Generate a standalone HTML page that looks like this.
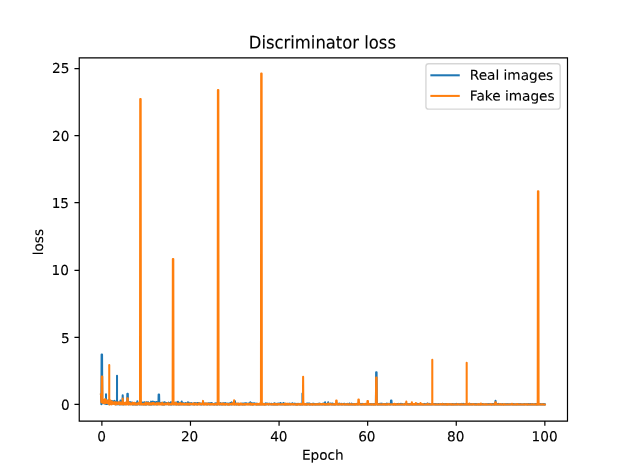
<!DOCTYPE html>
<html lang="en"><head><meta charset="utf-8"><title>Discriminator loss</title>
<style>html,body{margin:0;padding:0;background:#fff;overflow:hidden}svg{display:block}text{font-family:"DejaVu Sans","Liberation Sans",sans-serif;fill:#000;stroke:#000;stroke-width:0.120}</style></head><body>
<svg width="630" height="473" viewBox="0 -0.254 640 480.508" preserveAspectRatio="none">
<rect x="-1" y="-2" width="642" height="484" fill="#ffffff"/>
<defs><clipPath id="ax"><rect x="80.00" y="57.60" width="496.00" height="369.60"/></clipPath></defs>
<g clip-path="url(#ax)" fill="none" stroke-width="2.083" stroke-linejoin="round" stroke-linecap="square">
<polyline stroke="#1f77b4" points="102.55,400.60 102.77,404.28 103.00,410.39 103.22,359.96 103.45,359.96 103.67,359.96 103.90,408.74 104.12,408.78 104.35,409.30 104.57,407.83 104.80,406.91 105.03,408.57 105.25,408.03 105.48,407.33 105.70,408.80 105.93,409.72 106.15,408.66 106.38,407.81 106.60,408.27 106.83,408.51 107.05,407.84 107.28,409.69 107.51,407.07 107.67,410.17 107.69,400.33 107.70,410.17 107.73,410.17 107.96,408.89 108.18,409.46 108.41,409.70 108.63,408.15 108.86,409.51 109.08,410.03 109.31,408.58 109.53,406.65 109.76,408.61 109.99,409.65 110.21,408.48 110.44,406.30 110.66,408.94 110.89,408.71 111.11,409.00 111.34,410.30 111.56,408.21 111.79,409.14 112.01,409.52 112.24,407.73 112.47,409.70 112.69,409.25 112.92,407.15 113.14,410.17 113.37,407.06 113.59,409.96 113.82,409.03 114.04,409.30 114.27,408.98 114.49,408.70 114.72,407.42 114.95,408.89 115.17,409.34 115.40,407.74 115.62,409.76 115.85,407.94 116.07,408.90 116.30,408.75 116.52,407.01 116.75,407.95 116.97,409.65 117.20,410.34 117.43,410.45 117.65,408.88 117.88,410.06 118.10,407.90 118.33,409.15 118.55,409.29 118.78,410.42 118.85,408.11 118.87,381.37 118.89,408.11 119.00,408.11 119.23,409.84 119.45,409.65 119.68,409.62 119.91,410.32 120.13,408.77 120.36,408.58 120.58,408.76 120.81,410.28 121.03,409.82 121.26,409.41 121.48,410.47 121.71,409.10 121.93,410.66 122.16,409.38 122.39,406.58 122.61,409.23 122.84,409.84 123.06,409.91 123.29,409.27 123.51,410.17 123.74,409.82 123.96,410.54 124.19,409.78 124.41,409.47 124.64,401.42 124.87,407.78 125.09,409.50 125.32,408.91 125.54,410.54 125.77,409.88 125.99,409.02 126.22,410.45 126.44,409.95 126.67,409.69 126.89,409.85 127.12,410.25 127.35,409.97 127.57,410.44 127.80,410.07 128.02,409.69 128.25,409.75 128.47,410.02 128.70,409.57 128.92,408.77 129.15,409.62 129.37,399.65 129.60,399.65 129.83,399.65 130.05,409.69 130.28,408.45 130.50,410.37 130.73,410.29 130.95,410.58 131.18,410.32 131.40,409.84 131.63,409.76 131.85,410.44 132.08,408.24 132.31,409.64 132.53,410.03 132.76,409.96 132.98,410.07 133.21,410.10 133.43,409.59 133.66,410.03 133.88,408.60 134.11,409.54 134.33,410.57 134.56,410.53 134.79,409.15 135.01,409.79 135.24,409.78 135.46,410.15 135.69,410.50 135.91,409.66 136.14,410.08 136.36,409.62 136.59,409.37 136.81,409.19 137.04,410.60 137.27,410.68 137.49,410.16 137.72,409.80 137.94,410.64 138.17,410.52 138.39,409.47 138.62,409.73 138.84,410.60 139.07,410.37 139.29,409.12 139.52,407.48 139.75,410.60 139.97,408.91 140.20,409.01 140.42,409.41 140.65,410.24 140.87,409.66 141.10,409.92 141.32,410.18 141.55,410.05 141.77,410.54 142.00,408.77 142.23,409.23 142.45,410.52 142.68,409.47 142.90,409.95 143.13,408.66 143.35,409.88 143.58,410.09 143.80,410.54 144.03,408.33 144.25,409.57 144.48,409.51 144.71,410.38 144.93,409.94 145.16,410.04 145.38,410.01 145.61,408.91 145.83,410.55 146.06,410.40 146.28,410.18 146.51,409.80 146.73,408.42 146.96,409.33 147.19,410.58 147.41,410.09 147.64,410.32 147.86,410.52 148.09,410.67 148.31,410.15 148.54,409.83 148.76,409.15 148.99,408.31 149.21,410.57 149.44,410.26 149.67,410.26 149.89,410.04 150.12,408.56 150.34,410.18 150.57,408.48 150.79,410.30 151.02,410.41 151.24,409.49 151.47,410.66 151.69,410.26 151.92,410.43 152.15,410.17 152.37,410.51 152.60,409.98 152.82,408.90 153.05,410.51 153.27,408.81 153.50,407.76 153.72,410.67 153.95,410.08 154.17,410.37 154.40,409.51 154.63,410.00 154.85,410.40 155.08,410.22 155.30,407.66 155.53,410.42 155.75,410.37 155.98,410.22 156.20,410.55 156.43,409.31 156.65,410.48 156.88,408.07 157.11,409.56 157.33,410.01 157.56,409.52 157.78,408.70 158.01,410.06 158.23,408.51 158.46,409.56 158.68,410.52 158.91,408.88 159.13,408.22 159.36,410.09 159.59,410.41 159.81,408.67 160.04,410.53 160.26,410.03 160.49,409.03 160.71,407.88 160.94,410.04 161.16,400.46 161.39,400.46 161.61,400.46 161.84,409.78 162.07,410.33 162.29,409.02 162.52,409.24 162.74,409.91 162.97,409.39 163.19,409.51 163.42,409.61 163.64,409.80 163.87,409.05 164.09,410.17 164.32,409.99 164.55,410.61 164.77,409.78 165.00,408.81 165.22,410.62 165.45,410.06 165.67,410.41 165.90,410.65 166.12,410.07 166.35,409.85 166.57,408.86 166.80,408.38 167.03,410.49 167.25,410.68 167.48,410.41 167.70,409.44 167.93,408.81 168.15,409.50 168.38,410.09 168.60,409.65 168.83,409.60 169.05,409.08 169.28,410.34 169.51,409.56 169.73,409.22 169.96,409.81 170.18,409.69 170.41,409.69 170.63,410.10 170.86,409.33 171.08,409.87 171.31,408.79 171.53,410.65 171.76,410.33 171.99,410.06 172.21,409.13 172.44,410.46 172.66,410.26 172.89,409.87 173.11,410.65 173.34,410.54 173.56,408.52 173.79,410.42 174.01,408.99 174.24,410.67 174.47,409.29 174.69,408.78 174.92,410.38 175.14,409.88 175.37,409.83 175.59,409.45 175.82,408.04 176.04,410.38 176.27,409.85 176.49,410.61 176.72,409.96 176.95,409.82 177.17,409.30 177.40,410.43 177.62,408.87 177.85,410.16 178.07,408.81 178.30,410.48 178.52,410.26 178.75,410.31 178.97,409.87 179.20,410.61 179.43,408.66 179.65,409.91 179.88,409.24 180.10,409.51 180.33,409.31 180.55,410.40 180.78,407.98 181.00,410.44 181.23,410.63 181.45,409.79 181.68,410.38 181.91,410.57 182.13,409.84 182.36,410.58 182.58,410.48 182.81,408.94 183.03,409.65 183.26,409.18 183.48,410.43 183.71,410.69 183.93,409.35 184.16,409.28 184.39,410.48 184.61,407.69 184.84,410.49 185.06,410.25 185.29,410.19 185.51,409.44 185.74,410.41 185.96,409.71 186.19,410.67 186.41,409.38 186.64,409.47 186.87,410.24 187.09,410.31 187.32,410.49 187.54,409.65 187.77,409.70 187.99,409.54 188.22,409.83 188.44,410.47 188.67,409.06 188.89,410.61 189.12,409.58 189.35,409.71 189.57,410.38 189.80,410.37 190.02,410.16 190.25,410.27 190.47,410.66 190.70,410.46 190.92,408.41 191.15,410.33 191.37,410.62 191.60,409.76 191.83,408.96 192.05,410.13 192.28,410.63 192.50,409.88 192.73,410.62 192.95,410.04 193.18,409.63 193.40,409.95 193.63,410.49 193.85,410.01 194.08,409.14 194.31,410.48 194.53,410.24 194.76,410.12 194.98,410.40 195.21,410.15 195.43,410.01 195.66,409.81 195.88,410.09 196.11,409.71 196.33,410.32 196.56,410.38 196.79,410.38 197.01,410.66 197.24,409.69 197.46,410.67 197.69,409.17 197.91,410.49 198.14,410.11 198.36,409.46 198.59,410.05 198.81,409.91 199.04,409.33 199.27,410.30 199.49,409.88 199.72,409.74 199.94,409.76 200.17,410.66 200.39,410.66 200.62,410.55 200.84,409.18 201.07,410.41 201.29,409.85 201.52,409.68 201.75,409.23 201.97,409.54 202.20,409.20 202.42,410.16 202.65,409.61 202.87,409.96 203.10,410.41 203.32,410.28 203.55,410.61 203.77,409.74 204.00,410.49 204.23,410.47 204.45,409.94 204.68,410.49 204.90,410.37 205.13,409.69 205.35,410.37 205.58,410.20 205.80,410.27 206.03,409.55 206.25,410.26 206.48,409.25 206.71,409.99 206.93,410.69 207.16,409.84 207.38,410.22 207.61,409.52 207.83,410.00 208.06,410.22 208.28,409.95 208.51,410.06 208.73,410.09 208.96,409.99 209.19,410.01 209.41,410.44 209.64,410.24 209.86,410.32 210.09,410.56 210.31,409.66 210.54,410.64 210.76,409.99 210.99,410.03 211.21,410.27 211.44,410.13 211.67,410.43 211.89,409.33 212.12,409.98 212.34,409.78 212.57,409.58 212.79,410.59 213.02,409.80 213.24,409.69 213.47,409.38 213.69,410.43 213.92,409.90 214.15,409.68 214.37,410.48 214.60,410.21 214.82,410.04 215.05,409.25 215.27,409.36 215.50,410.09 215.72,410.48 215.95,410.40 216.17,410.37 216.40,410.04 216.63,410.09 216.85,410.12 217.08,410.48 217.30,410.19 217.53,410.53 217.75,409.97 217.98,410.12 218.20,410.01 218.43,410.58 218.65,409.87 218.88,410.38 219.11,409.96 219.33,409.33 219.56,410.20 219.78,410.50 220.01,410.69 220.23,410.06 220.46,409.97 220.68,409.45 220.91,409.80 221.13,410.60 221.36,409.14 221.59,410.40 221.81,409.98 222.04,410.27 222.26,410.21 222.49,410.03 222.71,410.40 222.94,410.13 223.16,410.61 223.39,409.96 223.61,409.57 223.84,409.23 224.07,410.18 224.29,409.61 224.52,410.65 224.74,410.52 224.97,410.36 225.19,410.36 225.42,410.51 225.64,409.76 225.87,410.58 226.09,409.97 226.32,409.62 226.55,409.99 226.77,409.98 227.00,409.40 227.22,410.24 227.45,410.57 227.67,410.40 227.90,410.09 228.12,409.62 228.35,410.07 228.57,409.44 228.80,409.19 229.03,410.60 229.25,410.19 229.48,410.60 229.70,410.48 229.93,410.17 230.15,409.95 230.38,410.32 230.60,409.73 230.83,409.99 231.05,410.14 231.28,410.60 231.51,410.03 231.73,409.80 231.96,410.24 232.18,410.25 232.41,409.95 232.63,410.53 232.86,410.43 233.08,409.96 233.31,410.65 233.53,410.47 233.76,409.99 233.99,409.18 234.21,410.33 234.44,409.92 234.66,410.41 234.89,410.64 235.11,409.70 235.34,408.53 235.56,410.53 235.79,410.37 236.01,410.04 236.24,409.81 236.47,410.20 236.69,409.89 236.92,409.64 237.14,409.76 237.37,410.37 237.59,410.17 237.82,409.62 238.04,410.53 238.27,410.62 238.49,410.32 238.72,407.42 238.95,410.42 239.17,410.06 239.40,410.48 239.62,410.60 239.85,410.09 240.07,410.28 240.30,410.57 240.52,410.69 240.75,410.34 240.97,410.15 241.20,409.90 241.43,410.45 241.65,410.13 241.88,409.86 242.10,409.69 242.33,410.55 242.55,410.56 242.78,410.43 243.00,410.68 243.23,410.35 243.45,410.11 243.68,410.43 243.91,410.60 244.13,410.07 244.36,409.91 244.58,410.45 244.81,410.47 245.03,410.25 245.26,410.51 245.48,410.27 245.71,409.64 245.93,410.47 246.16,410.59 246.39,410.11 246.61,410.32 246.84,410.34 247.06,409.67 247.29,409.82 247.51,410.13 247.74,410.59 247.96,410.31 248.19,409.68 248.41,410.68 248.64,410.24 248.87,409.74 249.09,410.57 249.32,410.11 249.54,410.10 249.77,410.44 249.99,409.30 250.22,409.52 250.44,410.21 250.67,410.10 250.89,410.02 251.12,410.16 251.35,409.94 251.57,410.22 251.80,410.34 252.02,410.02 252.25,410.25 252.47,410.43 252.70,409.82 252.92,410.05 253.15,409.63 253.37,410.44 253.60,410.45 253.83,410.36 254.05,410.21 254.28,408.51 254.50,410.62 254.73,410.22 254.95,410.07 255.18,409.77 255.40,409.51 255.63,409.70 255.85,410.29 256.08,409.38 256.31,410.07 256.53,410.59 256.76,410.58 256.98,410.67 257.21,410.22 257.43,410.67 257.66,410.66 257.88,409.46 258.11,410.41 258.33,410.11 258.56,410.45 258.79,409.62 259.01,409.93 259.24,409.73 259.46,410.35 259.69,410.31 259.91,410.23 260.14,410.30 260.36,410.36 260.59,410.20 260.81,409.84 261.04,410.63 261.27,410.13 261.49,410.61 261.72,410.19 261.94,410.59 262.17,410.61 262.39,410.59 262.62,410.67 262.84,410.12 263.07,410.42 263.29,410.37 263.52,410.62 263.75,410.65 263.97,410.42 264.20,410.59 264.42,410.46 264.65,409.87 264.87,410.48 265.10,409.96 265.32,409.94 265.55,409.81 265.77,410.53 266.00,410.58 266.23,409.70 266.45,410.09 266.68,410.16 266.90,410.41 267.13,410.39 267.35,410.13 267.58,410.15 267.80,410.06 268.03,410.63 268.25,410.37 268.48,410.47 268.71,410.47 268.93,410.51 269.16,410.62 269.38,410.32 269.61,409.61 269.83,410.59 270.06,409.64 270.28,410.12 270.51,409.83 270.73,409.96 270.96,410.46 271.19,410.48 271.41,410.10 271.64,410.12 271.86,409.79 272.09,410.25 272.31,410.09 272.54,410.22 272.76,410.16 272.99,410.56 273.21,410.57 273.44,409.87 273.67,410.25 273.89,409.91 274.12,410.24 274.34,410.12 274.57,410.29 274.79,410.27 275.02,410.34 275.24,410.01 275.47,410.62 275.69,410.45 275.92,409.85 276.15,410.26 276.37,410.36 276.60,410.33 276.82,410.56 277.05,410.41 277.27,410.52 277.50,410.62 277.72,410.64 277.95,410.24 278.17,410.57 278.40,410.48 278.63,409.49 278.85,410.56 279.08,410.69 279.30,410.57 279.53,410.63 279.75,410.55 279.98,409.93 280.20,410.68 280.43,410.28 280.65,410.34 280.88,410.51 281.11,410.25 281.33,410.10 281.56,410.61 281.78,410.57 282.01,410.52 282.23,410.45 282.46,409.75 282.68,410.11 282.91,410.22 283.13,410.07 283.36,410.36 283.59,409.77 283.81,410.21 284.04,410.47 284.26,410.39 284.49,410.61 284.71,410.08 284.94,409.16 285.16,409.96 285.39,410.46 285.61,410.44 285.84,409.90 286.07,410.38 286.29,410.57 286.52,410.58 286.74,410.62 286.97,410.18 287.19,410.42 287.42,410.06 287.64,410.32 287.87,409.22 288.09,409.73 288.32,410.53 288.55,410.64 288.77,410.51 289.00,410.18 289.22,409.82 289.45,410.11 289.67,410.63 289.90,410.43 290.12,410.57 290.35,410.28 290.57,410.57 290.80,410.43 291.03,410.31 291.25,410.61 291.48,410.09 291.70,410.04 291.93,410.11 292.15,410.00 292.38,410.65 292.60,410.52 292.83,410.51 293.05,410.23 293.28,410.66 293.51,410.61 293.73,410.38 293.96,409.82 294.18,409.92 294.41,410.30 294.63,410.37 294.86,410.08 295.08,410.57 295.31,410.54 295.53,410.27 295.76,410.33 295.99,410.07 296.21,410.21 296.44,410.41 296.66,410.23 296.89,410.38 297.11,409.51 297.34,410.23 297.56,409.73 297.79,410.56 298.01,410.63 298.24,410.34 298.47,410.22 298.69,410.42 298.92,409.90 299.14,410.30 299.37,410.35 299.59,409.90 299.82,410.58 300.04,410.29 300.27,410.34 300.49,410.31 300.72,410.04 300.95,410.63 301.17,410.25 301.40,410.25 301.62,410.33 301.85,410.58 302.07,410.32 302.30,410.43 302.52,410.06 302.75,410.50 302.97,410.36 303.20,410.35 303.43,410.07 303.65,410.33 303.88,410.65 304.10,410.58 304.33,410.67 304.55,410.19 304.78,410.45 305.00,410.05 305.23,410.04 305.45,410.59 305.68,410.37 305.91,410.68 306.13,410.34 306.36,410.12 306.58,410.08 306.81,410.57 307.03,410.53 307.24,410.52 307.26,399.51 307.28,410.52 307.26,410.52 307.48,410.60 307.71,410.44 307.93,410.38 308.16,409.65 308.39,410.49 308.61,410.34 308.84,410.41 309.06,409.96 309.29,410.31 309.51,410.52 309.74,410.26 309.96,410.66 310.19,410.14 310.41,410.59 310.64,410.49 310.87,410.59 311.09,410.67 311.32,410.03 311.54,410.67 311.77,409.70 311.99,410.47 312.22,410.26 312.44,409.80 312.67,410.53 312.89,410.38 313.12,410.00 313.35,409.84 313.57,410.07 313.80,410.30 314.02,409.69 314.25,410.67 314.47,410.40 314.70,410.55 314.92,410.68 315.15,410.03 315.37,410.30 315.60,410.26 315.83,410.51 316.05,410.62 316.28,410.60 316.50,410.30 316.73,410.25 316.95,410.15 317.18,410.36 317.40,410.65 317.63,410.25 317.85,410.42 318.08,409.83 318.31,410.05 318.53,410.57 318.76,410.28 318.98,409.99 319.21,410.17 319.43,410.43 319.66,410.63 319.88,410.60 320.11,410.39 320.33,410.49 320.56,410.10 320.79,410.09 321.01,410.68 321.24,410.43 321.46,410.68 321.69,410.63 321.91,410.68 322.14,410.15 322.36,410.47 322.59,410.38 322.81,410.57 323.04,410.19 323.27,409.92 323.49,410.53 323.72,410.68 323.94,410.25 324.17,410.32 324.39,409.79 324.62,410.09 324.84,410.51 325.07,410.17 325.29,410.58 325.52,409.99 325.75,410.47 325.97,410.38 326.20,410.46 326.42,410.53 326.65,410.30 326.87,410.42 327.10,410.68 327.32,410.55 327.55,410.06 327.77,410.49 328.00,410.68 328.23,410.23 328.45,409.65 328.68,410.58 328.90,409.92 329.13,409.95 329.35,409.90 329.58,410.61 329.80,410.09 330.03,410.60 330.25,408.37 330.48,410.52 330.71,410.47 330.93,410.66 331.16,410.64 331.38,410.08 331.61,410.61 331.83,410.13 332.06,410.59 332.28,410.64 332.51,410.17 332.73,410.26 332.96,410.49 333.19,410.68 333.41,408.37 333.64,410.30 333.86,410.49 334.09,410.69 334.31,410.62 334.54,410.56 334.76,410.39 334.99,410.49 335.21,410.19 335.44,410.06 335.67,410.45 335.89,410.17 336.12,409.71 336.34,409.85 336.57,410.55 336.79,410.53 337.02,409.89 337.24,410.39 337.47,410.30 337.69,409.98 337.92,409.73 338.15,410.66 338.37,410.43 338.60,410.54 338.82,410.38 339.05,410.60 339.27,410.49 339.50,410.56 339.72,410.68 339.95,410.48 340.17,410.61 340.40,410.39 340.63,410.49 340.85,410.63 341.08,410.40 341.30,410.34 341.53,410.20 341.75,410.33 341.98,409.54 342.20,410.34 342.43,410.09 342.65,410.31 342.88,410.59 343.11,410.19 343.33,409.86 343.56,410.19 343.78,410.67 344.01,410.48 344.23,410.12 344.46,410.12 344.68,410.48 344.91,409.83 345.13,410.48 345.36,410.48 345.59,410.33 345.81,410.23 346.04,410.51 346.26,410.52 346.49,409.97 346.71,410.53 346.94,410.63 347.16,410.19 347.39,410.24 347.61,410.34 347.84,410.55 348.07,410.57 348.29,410.33 348.52,410.05 348.74,410.23 348.97,410.10 349.19,410.24 349.42,410.52 349.64,410.30 349.87,409.89 350.09,410.55 350.32,410.49 350.55,410.64 350.77,410.39 351.00,410.62 351.22,410.60 351.45,410.45 351.67,410.48 351.90,410.41 352.12,410.60 352.35,410.18 352.57,410.24 352.80,410.23 353.03,410.64 353.25,410.08 353.48,410.42 353.70,410.57 353.93,410.41 354.15,410.45 354.38,410.38 354.60,410.59 354.83,410.68 355.05,409.77 355.28,410.38 355.51,410.50 355.73,410.27 355.96,410.63 356.18,410.59 356.41,410.58 356.63,410.44 356.86,410.51 357.08,410.57 357.31,409.80 357.53,410.42 357.76,410.34 357.99,410.44 358.21,410.62 358.44,410.23 358.66,410.38 358.89,410.69 359.11,410.54 359.34,410.61 359.56,410.36 359.79,410.58 360.01,410.29 360.24,410.56 360.47,410.62 360.69,410.57 360.92,410.16 361.14,410.59 361.37,410.67 361.59,410.33 361.82,410.65 362.04,410.52 362.27,410.25 362.49,410.03 362.72,410.33 362.95,410.27 363.17,410.61 363.40,410.03 363.62,410.35 363.85,410.66 364.07,410.55 364.30,410.32 364.52,410.27 364.75,410.42 364.97,410.41 365.20,409.74 365.43,410.34 365.65,410.01 365.88,410.69 366.10,410.54 366.33,410.34 366.55,410.64 366.78,410.55 367.00,410.56 367.23,410.50 367.45,410.21 367.68,410.46 367.91,409.98 368.13,410.32 368.36,410.18 368.58,410.64 368.81,410.57 369.03,410.35 369.26,410.35 369.48,410.61 369.71,410.64 369.93,410.49 370.16,410.62 370.39,410.57 370.61,410.52 370.84,410.28 371.06,410.01 371.29,410.18 371.51,410.64 371.74,410.68 371.96,410.15 372.19,410.47 372.41,410.54 372.64,410.53 372.87,410.52 373.09,410.65 373.32,410.41 373.54,410.46 373.77,410.51 373.99,410.62 374.22,410.44 374.44,410.01 374.67,410.48 374.89,410.67 375.12,410.44 375.35,410.62 375.57,410.69 375.80,410.56 376.02,410.16 376.25,410.62 376.47,410.48 376.70,410.43 376.92,410.45 377.15,410.63 377.37,410.53 377.60,410.56 377.83,410.21 378.05,410.60 378.28,410.68 378.50,410.66 378.73,410.46 378.95,410.56 379.18,410.68 379.40,410.53 379.63,410.36 379.85,410.66 380.08,410.58 380.31,410.41 380.53,410.20 380.76,410.43 380.98,410.47 381.21,410.60 381.43,410.12 381.66,410.66 381.88,410.16 382.11,377.96 382.33,377.96 382.56,377.96 382.79,410.46 383.01,410.18 383.24,410.55 383.46,410.23 383.69,410.66 383.91,410.15 384.14,410.43 384.36,410.49 384.59,410.23 384.81,410.54 385.04,410.32 385.27,410.37 385.49,410.45 385.72,410.57 385.94,409.92 386.17,410.58 386.39,410.67 386.62,410.04 386.84,410.27 387.07,410.48 387.29,410.24 387.52,410.57 387.75,410.19 387.97,409.73 388.20,410.57 388.42,410.30 388.65,410.53 388.87,410.63 389.10,410.57 389.32,410.40 389.55,410.45 389.77,410.17 390.00,410.42 390.23,410.58 390.45,410.11 390.68,410.11 390.90,410.10 391.13,410.35 391.35,410.69 391.58,410.31 391.80,410.48 392.03,410.24 392.25,409.94 392.48,410.56 392.71,409.89 392.93,410.60 393.16,410.44 393.38,409.93 393.61,410.12 393.83,410.64 394.06,410.16 394.28,410.53 394.51,410.41 394.73,410.22 394.96,410.00 395.19,410.12 395.41,410.27 395.64,410.61 395.86,410.50 396.09,410.61 396.31,410.06 396.54,410.59 396.76,410.65 396.99,410.56 397.21,406.60 397.44,406.60 397.67,406.60 397.89,409.82 398.12,410.33 398.34,410.42 398.57,410.27 398.79,410.33 399.02,410.59 399.24,410.58 399.47,410.53 399.69,410.60 399.92,410.52 400.15,410.36 400.37,410.64 400.60,410.55 400.82,410.52 401.05,410.58 401.27,410.49 401.50,410.63 401.72,410.44 401.95,410.61 402.17,410.67 402.40,410.58 402.63,410.29 402.85,410.41 403.08,410.59 403.30,410.34 403.53,410.30 403.75,410.26 403.98,410.58 404.20,410.48 404.43,410.58 404.65,410.67 404.88,410.33 405.11,410.05 405.33,410.65 405.56,410.10 405.78,410.53 406.01,410.34 406.23,410.61 406.46,410.32 406.68,410.55 406.91,410.31 407.13,409.90 407.36,410.67 407.59,410.63 407.81,410.52 408.04,410.37 408.26,410.53 408.49,410.42 408.71,410.16 408.94,410.66 409.16,410.41 409.39,410.64 409.61,410.57 409.84,410.58 410.07,410.63 410.29,410.52 410.52,410.67 410.74,410.37 410.97,410.64 411.19,410.50 411.42,410.51 411.64,410.49 411.87,409.78 412.09,410.28 412.32,410.59 412.55,410.16 412.77,410.53 413.00,410.64 413.22,410.43 413.45,410.67 413.67,410.25 413.90,410.43 414.12,410.58 414.35,410.23 414.57,410.39 414.80,410.50 415.03,410.40 415.25,410.65 415.48,410.61 415.70,410.43 415.93,410.60 416.15,410.57 416.38,410.63 416.60,410.30 416.83,410.53 417.05,410.65 417.28,410.59 417.51,410.13 417.73,410.66 417.96,410.58 418.18,410.53 418.41,410.69 418.63,410.63 418.86,410.50 419.08,410.61 419.31,410.48 419.53,410.69 419.76,410.53 419.99,410.49 420.21,410.49 420.44,410.52 420.66,410.51 420.89,410.58 421.11,410.64 421.34,410.60 421.56,410.66 421.79,410.20 422.01,410.69 422.24,410.59 422.47,410.56 422.69,410.61 422.92,410.68 423.14,410.19 423.37,410.28 423.59,409.87 423.82,410.63 424.04,410.24 424.27,410.21 424.49,410.38 424.72,410.51 424.95,410.35 425.17,410.61 425.40,410.15 425.62,410.30 425.85,410.59 426.07,410.59 426.30,410.22 426.52,410.56 426.75,410.46 426.97,410.25 427.20,410.65 427.43,410.43 427.65,410.47 427.88,410.69 428.10,410.49 428.33,410.58 428.55,410.49 428.78,410.68 429.00,410.61 429.23,410.64 429.45,410.69 429.68,410.59 429.91,410.63 430.13,410.36 430.36,410.51 430.58,410.32 430.81,410.08 431.03,410.50 431.26,410.69 431.48,410.32 431.71,410.65 431.93,410.36 432.16,410.32 432.39,410.61 432.61,410.57 432.84,410.46 433.06,410.61 433.29,410.58 433.51,410.55 433.74,410.30 433.96,410.49 434.19,409.72 434.41,410.59 434.64,410.35 434.87,410.18 435.09,410.44 435.32,410.60 435.54,410.49 435.77,410.33 435.99,410.00 436.22,410.56 436.44,410.60 436.67,410.52 436.89,410.65 437.12,410.64 437.35,410.55 437.57,410.55 437.80,410.39 438.02,410.15 438.25,410.44 438.47,410.38 438.70,410.66 438.92,410.57 439.15,410.55 439.37,410.49 439.60,410.35 439.83,410.50 440.05,410.56 440.28,410.25 440.50,410.38 440.73,410.29 440.95,410.37 441.18,410.50 441.40,410.36 441.63,410.20 441.85,410.62 442.08,410.11 442.31,410.41 442.53,410.35 442.76,410.69 442.98,410.46 443.21,410.37 443.43,410.56 443.66,410.39 443.88,410.57 444.11,410.61 444.33,410.57 444.56,410.42 444.79,410.50 445.01,410.12 445.24,410.21 445.46,410.62 445.69,410.56 445.91,410.60 446.14,410.64 446.36,410.49 446.59,410.43 446.81,410.68 447.04,410.59 447.27,410.37 447.49,410.45 447.72,410.29 447.94,410.43 448.17,410.50 448.39,410.51 448.62,410.59 448.84,410.33 449.07,410.40 449.29,410.08 449.52,410.62 449.75,410.34 449.97,410.28 450.20,410.54 450.42,410.38 450.65,410.63 450.87,410.53 451.10,410.69 451.32,410.40 451.55,410.50 451.77,410.55 452.00,410.58 452.23,410.42 452.45,410.27 452.68,410.37 452.90,410.57 453.13,410.24 453.35,410.53 453.58,410.25 453.80,410.54 454.03,410.65 454.25,410.45 454.48,410.46 454.71,410.54 454.93,410.65 455.16,410.66 455.38,410.63 455.61,410.55 455.83,410.61 456.06,410.37 456.28,410.27 456.51,410.40 456.73,410.49 456.96,410.66 457.19,410.59 457.41,410.45 457.64,410.62 457.86,410.63 458.09,410.62 458.31,410.52 458.54,410.37 458.76,410.48 458.99,410.51 459.21,410.64 459.44,410.50 459.67,410.63 459.89,410.33 460.12,410.67 460.34,410.54 460.57,410.52 460.79,410.48 461.02,410.62 461.24,410.35 461.47,410.34 461.69,410.55 461.92,410.69 462.15,410.48 462.37,410.58 462.60,410.51 462.82,410.58 463.05,410.53 463.27,410.23 463.50,410.10 463.72,410.50 463.95,410.32 464.17,410.48 464.40,410.43 464.63,410.44 464.85,410.68 465.08,410.52 465.30,410.59 465.53,410.42 465.75,410.31 465.98,410.39 466.20,410.46 466.43,410.54 466.65,410.57 466.88,410.55 467.11,410.46 467.33,410.37 467.56,410.61 467.78,410.46 468.01,410.22 468.23,410.56 468.46,410.50 468.68,410.44 468.91,410.38 469.13,410.50 469.36,409.98 469.59,410.52 469.81,410.59 470.04,410.46 470.26,410.68 470.49,410.63 470.71,410.08 470.94,410.56 471.16,410.52 471.39,410.47 471.61,410.60 471.84,410.49 472.07,410.58 472.29,410.59 472.52,410.53 472.74,410.68 472.97,410.14 473.19,410.50 473.42,410.43 473.64,410.62 473.87,410.36 474.09,410.50 474.32,410.67 474.55,410.60 474.77,410.62 475.00,410.48 475.22,410.47 475.45,410.44 475.67,410.69 475.90,410.51 476.12,410.68 476.35,410.25 476.57,410.57 476.80,410.36 477.03,410.46 477.25,410.22 477.48,410.39 477.70,410.40 477.93,410.23 478.15,410.39 478.38,410.66 478.60,410.56 478.83,410.66 479.05,410.29 479.28,410.67 479.51,410.63 479.73,410.65 479.96,410.43 480.18,410.65 480.41,410.45 480.63,410.21 480.86,410.44 481.08,410.41 481.31,410.34 481.53,410.61 481.76,410.43 481.99,410.62 482.21,410.36 482.44,410.29 482.66,410.51 482.89,410.62 483.11,410.67 483.34,410.40 483.56,410.23 483.79,410.19 484.01,410.55 484.24,410.65 484.47,410.43 484.69,410.35 484.92,410.61 485.14,410.65 485.37,410.69 485.59,410.69 485.82,410.38 486.04,410.28 486.27,410.56 486.49,410.55 486.72,410.60 486.95,410.55 487.17,410.60 487.40,410.40 487.62,410.57 487.85,410.57 488.07,410.56 488.30,410.58 488.52,410.62 488.75,410.60 488.97,410.61 489.20,410.69 489.43,410.10 489.65,410.51 489.88,410.44 490.10,410.33 490.33,410.61 490.55,410.39 490.78,410.47 491.00,410.63 491.23,410.55 491.45,410.58 491.68,410.58 491.91,410.59 492.13,410.62 492.36,410.57 492.58,410.65 492.81,410.41 493.03,410.63 493.26,410.60 493.48,410.47 493.71,410.51 493.93,410.41 494.16,410.44 494.39,410.55 494.61,410.63 494.84,410.60 495.06,410.58 495.29,410.64 495.51,410.39 495.74,410.26 495.96,410.17 496.19,410.65 496.41,410.60 496.64,410.69 496.87,410.54 497.09,410.54 497.32,410.35 497.54,410.53 497.77,410.44 497.99,410.63 498.22,410.48 498.44,410.51 498.67,410.49 498.89,410.36 499.12,410.64 499.35,410.59 499.57,410.64 499.80,410.56 500.02,410.30 500.25,410.67 500.47,410.19 500.70,410.62 500.92,410.57 501.15,410.67 501.37,410.36 501.60,410.52 501.83,410.59 502.05,410.41 502.28,410.53 502.50,410.63 502.73,410.44 502.95,410.59 503.18,410.68 503.40,406.87 503.63,410.43 503.85,410.51 504.08,410.33 504.31,410.54 504.53,410.53 504.76,410.66 504.98,410.40 505.21,410.58 505.43,410.69 505.66,410.32 505.88,410.50 506.11,410.10 506.33,410.58 506.56,410.47 506.79,410.58 507.01,410.64 507.24,410.66 507.46,410.44 507.69,410.66 507.91,410.57 508.14,410.54 508.36,410.32 508.59,410.54 508.81,410.49 509.04,410.45 509.27,410.57 509.49,410.69 509.72,410.59 509.94,410.45 510.17,410.30 510.39,410.35 510.62,410.47 510.84,410.66 511.07,410.38 511.29,410.60 511.52,410.65 511.75,410.65 511.97,410.61 512.20,410.65 512.42,410.61 512.65,410.47 512.87,410.60 513.10,410.44 513.32,410.41 513.55,410.55 513.77,410.56 514.00,410.53 514.23,410.51 514.45,410.54 514.68,410.59 514.90,410.67 515.13,410.28 515.35,410.61 515.58,410.58 515.80,410.41 516.03,410.49 516.25,410.48 516.48,410.55 516.71,410.61 516.93,410.39 517.16,410.51 517.38,410.63 517.61,410.62 517.83,410.47 518.06,410.50 518.28,410.62 518.51,410.54 518.73,410.53 518.96,410.47 519.19,410.50 519.41,410.49 519.64,410.36 519.86,410.64 520.09,410.40 520.31,410.58 520.54,410.48 520.76,410.49 520.99,410.35 521.21,410.65 521.44,410.67 521.67,410.47 521.89,410.65 522.12,410.32 522.34,410.69 522.57,410.61 522.79,410.69 523.02,410.64 523.24,410.57 523.47,410.59 523.69,410.63 523.92,410.50 524.15,410.68 524.37,410.45 524.60,410.57 524.82,410.68 525.05,410.55 525.27,410.68 525.50,410.41 525.72,410.65 525.95,410.50 526.17,410.68 526.40,410.63 526.63,410.55 526.85,410.30 527.08,410.63 527.30,410.68 527.53,410.68 527.75,410.54 527.98,410.50 528.20,410.35 528.43,410.40 528.65,410.64 528.88,410.46 529.11,410.64 529.33,410.46 529.56,410.37 529.78,410.66 530.01,410.67 530.23,410.66 530.46,410.64 530.68,410.53 530.91,410.60 531.13,410.62 531.36,410.52 531.59,410.56 531.81,410.67 532.04,410.45 532.26,410.54 532.49,410.62 532.71,410.37 532.94,410.58 533.16,410.45 533.39,410.47 533.61,410.54 533.84,410.40 534.07,410.46 534.29,410.40 534.52,410.44 534.74,410.50 534.97,410.61 535.19,410.65 535.42,410.33 535.64,410.69 535.87,410.61 536.09,410.67 536.32,410.59 536.55,410.39 536.77,410.64 537.00,410.67 537.22,410.27 537.45,410.55 537.67,410.55 537.90,410.39 538.12,410.42 538.35,410.58 538.57,410.65 538.80,410.60 539.03,410.16 539.25,410.45 539.48,410.36 539.70,410.57 539.93,410.64 540.15,410.48 540.38,410.63 540.60,410.52 540.83,410.17 541.05,410.61 541.28,410.46 541.51,410.62 541.73,410.68 541.96,410.40 542.18,410.55 542.41,410.67 542.63,410.62 542.86,410.56 543.08,410.38 543.31,410.67 543.53,410.54 543.76,410.29 543.99,410.48 544.21,410.57 544.44,410.41 544.66,410.46 544.89,410.29 545.11,410.69 545.34,410.68 545.56,410.54 545.79,410.55 546.01,410.68 546.24,410.33 546.47,410.45 546.69,410.58 546.92,410.60 547.14,410.60 547.37,410.47 547.59,410.41 547.82,410.38 548.04,410.54 548.27,410.60 548.49,410.49 548.72,410.23 548.95,410.41 549.17,410.34 549.40,410.69 549.62,410.50 549.85,410.49 550.07,410.51 550.30,410.56 550.52,410.61 550.75,410.42 550.97,410.63 551.20,410.50 551.43,410.49 551.65,410.55 551.88,410.43 552.10,410.68 552.33,410.38 552.55,410.66 552.78,410.54 553.00,410.50 553.23,410.65 553.45,410.55"/>
<polyline stroke="#ff7f0e" points="102.55,400.33 102.77,402.24 103.00,408.40 103.22,407.90 103.45,382.19 103.67,382.19 103.90,382.19 104.12,408.99 104.35,405.87 104.57,408.15 104.80,407.81 105.03,406.07 105.25,406.22 105.48,406.20 105.70,409.34 105.93,406.77 106.15,408.06 106.38,406.34 106.60,405.34 106.83,407.03 107.05,405.32 107.28,405.84 107.51,409.43 107.73,405.98 107.96,407.20 108.18,406.54 108.41,407.67 108.63,408.96 108.86,407.74 109.08,407.80 109.31,409.10 109.53,409.26 109.76,408.12 109.99,408.96 110.21,406.89 110.44,407.03 110.66,410.12 110.89,409.17 110.96,410.54 110.98,370.59 111.00,410.54 111.11,410.54 111.34,409.24 111.56,408.71 111.79,407.81 112.01,409.28 112.24,406.56 112.47,409.08 112.69,408.94 112.92,410.39 113.14,408.43 113.37,409.76 113.59,410.55 113.82,407.74 114.04,409.56 114.27,408.78 114.49,409.37 114.72,408.96 114.95,409.98 115.17,409.26 115.40,408.74 115.62,409.96 115.85,409.00 116.07,408.09 116.30,409.83 116.52,409.27 116.75,409.57 116.97,410.16 117.20,410.72 117.43,409.42 117.65,409.57 117.88,408.42 118.10,408.56 118.33,408.52 118.55,408.75 118.78,410.32 119.00,409.21 119.23,409.99 119.45,409.77 119.68,408.60 119.91,409.66 120.13,409.92 120.36,408.67 120.58,409.70 120.81,410.21 121.03,409.12 121.26,408.34 121.48,410.41 121.71,409.47 121.93,410.41 122.16,408.95 122.39,408.53 122.61,409.64 122.84,409.16 123.06,409.60 123.29,410.38 123.51,408.99 123.74,410.26 123.96,410.06 124.19,409.41 124.41,409.35 124.64,404.56 124.87,410.63 125.09,408.95 125.32,409.20 125.54,409.44 125.77,409.61 125.99,409.01 126.22,410.38 126.44,409.33 126.67,409.48 126.89,409.83 127.12,410.34 127.35,408.57 127.57,410.42 127.80,409.65 128.02,410.12 128.25,409.21 128.47,410.66 128.70,410.67 128.92,410.40 129.15,410.07 129.37,404.28 129.60,404.28 129.83,404.28 130.05,410.06 130.28,410.58 130.50,410.60 130.73,410.07 130.95,410.26 131.18,408.77 131.40,409.80 131.63,408.90 131.85,410.08 132.08,409.49 132.31,410.51 132.53,410.64 132.76,410.33 132.98,410.56 133.21,410.08 133.43,409.55 133.66,410.31 133.88,410.40 134.11,410.36 134.33,410.62 134.56,409.76 134.79,410.02 135.01,408.78 135.24,409.99 135.46,409.69 135.69,409.94 135.91,410.34 136.14,410.28 136.36,410.62 136.59,408.90 136.81,410.24 137.04,409.25 137.27,410.34 137.49,409.86 137.72,410.69 137.94,410.57 138.17,410.62 138.39,410.56 138.62,410.52 138.84,409.94 139.07,410.13 139.29,409.39 139.52,410.59 139.75,410.32 139.97,410.35 140.20,409.70 140.42,410.43 140.65,410.29 140.87,409.18 141.10,410.24 141.32,409.15 141.55,409.17 141.77,410.42 142.00,409.80 142.23,410.38 142.45,100.27 142.68,100.27 142.90,100.27 143.13,410.54 143.35,410.46 143.58,409.90 143.80,410.48 144.03,410.44 144.25,410.65 144.48,410.27 144.71,410.25 144.93,410.16 145.16,410.58 145.38,409.96 145.61,410.36 145.83,410.70 146.06,410.70 146.28,410.01 146.51,409.80 146.73,410.36 146.96,410.62 147.19,409.66 147.41,410.59 147.64,410.66 147.86,409.76 148.09,408.69 148.31,410.58 148.54,409.34 148.76,410.51 148.99,410.21 149.21,410.24 149.44,409.66 149.67,410.50 149.89,410.27 150.12,409.90 150.34,409.06 150.57,410.48 150.79,409.70 151.02,410.75 151.24,410.30 151.47,410.60 151.69,410.05 151.92,409.46 152.15,410.65 152.37,410.64 152.60,409.71 152.82,410.70 153.05,410.12 153.27,410.30 153.50,409.37 153.72,410.06 153.95,410.72 154.17,410.56 154.40,409.87 154.63,410.12 154.85,409.23 155.08,410.06 155.30,410.26 155.53,409.81 155.75,409.08 155.98,409.67 156.20,409.74 156.43,410.03 156.65,409.54 156.88,410.40 157.11,410.70 157.33,409.63 157.56,410.70 157.78,410.49 158.01,410.33 158.23,410.67 158.46,410.71 158.68,409.93 158.91,410.29 159.13,410.61 159.36,409.14 159.59,409.48 159.81,410.24 160.04,410.47 160.26,410.50 160.49,410.32 160.71,410.51 160.94,410.69 161.16,410.54 161.39,409.27 161.61,410.19 161.84,409.68 162.07,409.91 162.29,410.73 162.52,410.59 162.74,410.50 162.97,409.68 163.19,409.91 163.42,410.49 163.64,410.64 163.87,410.59 164.09,410.31 164.32,410.28 164.55,410.63 164.77,408.99 165.00,410.54 165.22,410.39 165.45,409.84 165.67,410.57 165.90,410.17 166.12,409.96 166.35,409.92 166.57,410.75 166.80,410.58 167.03,410.11 167.25,409.83 167.48,410.55 167.70,410.42 167.93,410.04 168.15,409.69 168.38,410.39 168.60,409.77 168.83,410.34 169.05,410.45 169.28,410.06 169.51,410.12 169.73,410.31 169.96,410.44 170.18,410.33 170.41,409.06 170.63,410.65 170.86,410.07 171.08,410.23 171.31,410.34 171.53,410.07 171.76,410.58 171.99,409.76 172.21,410.51 172.44,410.60 172.66,410.24 172.89,410.58 173.11,410.52 173.34,410.29 173.56,410.50 173.79,410.48 174.01,410.39 174.24,410.57 174.47,410.64 174.69,409.27 174.92,410.35 175.14,410.30 175.37,410.41 175.59,262.85 175.82,262.85 176.04,262.85 176.27,410.41 176.49,409.90 176.72,409.07 176.95,409.41 177.17,410.31 177.40,409.91 177.62,410.31 177.85,410.60 178.07,410.17 178.30,410.57 178.52,410.35 178.75,408.99 178.97,410.62 179.20,410.48 179.43,409.48 179.65,410.54 179.88,410.75 180.10,410.74 180.33,410.40 180.55,410.50 180.78,410.68 181.00,410.42 181.23,409.92 181.45,410.57 181.68,410.65 181.91,409.76 182.13,410.61 182.36,410.55 182.58,410.68 182.81,410.38 183.03,409.37 183.26,410.51 183.48,409.43 183.71,409.69 183.93,410.31 184.16,410.69 184.39,410.73 184.61,410.68 184.84,409.95 185.06,410.48 185.29,410.52 185.51,410.58 185.74,409.57 185.96,409.96 186.19,410.42 186.41,410.42 186.64,410.28 186.87,410.14 187.09,410.58 187.32,410.07 187.54,410.06 187.77,410.68 187.99,410.13 188.22,410.44 188.44,410.65 188.67,410.75 188.89,410.63 189.12,409.66 189.35,410.13 189.57,410.63 189.80,410.62 190.02,410.28 190.25,410.18 190.47,410.58 190.70,410.66 190.92,409.74 191.15,410.21 191.37,410.72 191.60,410.67 191.83,410.10 192.05,410.10 192.28,410.75 192.50,410.46 192.73,410.70 192.95,410.75 193.18,409.63 193.40,410.05 193.63,410.28 193.85,410.19 194.08,410.39 194.31,410.23 194.53,410.04 194.76,410.14 194.98,410.14 195.21,410.45 195.43,410.55 195.66,410.06 195.88,410.42 196.11,410.20 196.33,410.09 196.56,409.51 196.79,410.53 197.01,410.50 197.24,410.59 197.46,410.70 197.69,410.67 197.91,409.80 198.14,410.27 198.36,410.36 198.59,410.54 198.81,409.81 199.04,410.62 199.27,410.14 199.49,409.77 199.72,410.12 199.94,410.72 200.17,410.30 200.39,410.56 200.62,410.69 200.84,410.34 201.07,410.34 201.29,410.22 201.52,410.27 201.75,410.40 201.97,409.42 202.20,410.60 202.42,410.52 202.65,410.52 202.87,410.38 203.10,409.71 203.32,409.83 203.55,410.33 203.77,410.43 204.00,410.26 204.23,410.00 204.45,410.50 204.68,410.59 204.90,410.60 205.13,410.35 205.35,410.56 205.58,410.33 205.80,410.13 206.03,409.93 206.25,407.01 206.48,410.48 206.71,409.93 206.93,410.21 207.16,410.57 207.38,410.61 207.61,410.59 207.83,410.23 208.06,410.67 208.28,410.54 208.51,410.08 208.73,410.61 208.96,409.56 209.19,410.57 209.41,410.69 209.64,409.76 209.86,410.72 210.09,410.48 210.31,410.43 210.54,410.61 210.76,410.18 210.99,410.64 211.21,409.72 211.44,410.50 211.67,410.05 211.89,409.99 212.12,410.44 212.34,410.29 212.57,410.08 212.79,410.04 213.02,410.23 213.24,410.31 213.47,410.76 213.69,410.15 213.92,410.55 214.15,410.40 214.37,410.42 214.60,410.30 214.82,410.03 215.05,410.69 215.27,410.34 215.50,410.00 215.72,410.16 215.95,410.55 216.17,410.50 216.40,410.17 216.63,410.57 216.85,410.70 217.08,410.47 217.30,410.65 217.53,410.67 217.75,410.56 217.98,410.42 218.20,410.55 218.43,410.04 218.65,410.35 218.88,410.43 219.11,410.44 219.33,410.52 219.56,410.65 219.78,410.67 220.01,410.00 220.23,410.52 220.46,410.47 220.68,410.51 220.91,410.70 221.13,410.03 221.36,91.13 221.59,91.13 221.81,91.13 222.04,410.28 222.26,410.07 222.49,410.65 222.71,409.70 222.94,410.75 223.16,410.53 223.39,409.81 223.61,409.72 223.84,410.31 224.07,410.33 224.29,410.25 224.52,410.53 224.74,409.91 224.97,410.48 225.19,410.27 225.42,410.38 225.64,409.84 225.87,410.34 226.09,410.68 226.32,409.90 226.55,410.61 226.77,409.66 227.00,410.32 227.22,410.45 227.45,410.38 227.67,410.69 227.90,410.38 228.12,410.67 228.35,410.39 228.57,410.75 228.80,409.94 229.03,410.35 229.25,410.62 229.48,410.50 229.70,410.11 229.93,410.28 230.15,410.02 230.38,410.01 230.60,410.59 230.83,410.18 231.05,410.17 231.28,410.42 231.51,410.38 231.73,410.57 231.96,410.75 232.18,410.53 232.41,410.76 232.63,410.60 232.86,410.33 233.08,410.28 233.31,410.41 233.53,410.65 233.76,410.00 233.99,410.35 234.21,410.24 234.44,410.44 234.66,410.44 234.89,410.42 235.11,410.48 235.34,410.47 235.56,410.63 235.79,409.38 236.01,410.41 236.24,409.95 236.47,410.51 236.69,410.72 236.92,410.60 237.14,410.66 237.37,410.28 237.59,410.29 237.82,406.33 238.04,410.67 238.27,410.70 238.49,410.53 238.72,410.39 238.95,410.26 239.17,410.36 239.40,410.25 239.62,410.28 239.85,410.67 240.07,409.63 240.30,410.74 240.52,410.67 240.75,410.12 240.97,410.55 241.20,410.09 241.43,410.43 241.65,410.54 241.88,409.99 242.10,410.59 242.33,410.75 242.55,409.92 242.78,410.47 243.00,410.76 243.23,410.48 243.45,410.38 243.68,409.91 243.91,410.64 244.13,409.72 244.36,410.63 244.58,410.11 244.81,410.53 245.03,410.64 245.26,410.32 245.48,409.89 245.71,410.71 245.93,410.59 246.16,410.62 246.39,410.75 246.61,410.56 246.84,410.50 247.06,410.59 247.29,410.39 247.51,410.47 247.74,410.56 247.96,410.37 248.19,410.61 248.41,410.61 248.64,410.05 248.87,410.59 249.09,410.18 249.32,410.52 249.54,410.37 249.77,410.33 249.99,410.66 250.22,410.71 250.44,410.69 250.67,410.43 250.89,410.24 251.12,409.94 251.35,410.75 251.57,410.35 251.80,410.64 252.02,410.62 252.25,410.36 252.47,410.69 252.70,410.56 252.92,410.60 253.15,410.14 253.37,410.33 253.60,410.30 253.83,410.72 254.05,410.69 254.28,410.46 254.50,409.55 254.73,410.70 254.95,410.62 255.18,410.10 255.40,410.37 255.63,410.72 255.85,410.57 256.08,410.35 256.31,410.07 256.53,410.25 256.76,410.75 256.98,410.15 257.21,410.68 257.43,410.61 257.66,410.47 257.88,410.07 258.11,410.08 258.33,410.16 258.56,410.37 258.79,410.44 259.01,410.56 259.24,410.40 259.46,410.26 259.69,410.58 259.91,410.69 260.14,410.34 260.36,410.41 260.59,410.75 260.81,410.22 261.04,410.33 261.27,410.55 261.49,410.69 261.72,409.99 261.94,410.65 262.17,410.60 262.39,410.58 262.62,410.56 262.84,410.29 263.07,410.18 263.29,410.50 263.52,410.12 263.75,409.76 263.97,410.59 264.20,410.08 264.42,410.62 264.65,409.90 264.87,410.39 265.10,410.74 265.32,74.36 265.55,74.36 265.77,74.36 266.00,410.59 266.23,410.71 266.45,410.57 266.68,410.61 266.90,410.58 267.13,410.74 267.35,410.21 267.58,410.52 267.80,410.21 268.03,410.64 268.25,410.26 268.48,410.46 268.71,410.75 268.93,410.31 269.16,410.72 269.38,410.62 269.61,410.57 269.83,410.72 270.06,410.68 270.28,410.61 270.51,410.07 270.73,410.65 270.96,410.54 271.19,410.33 271.41,410.25 271.64,410.39 271.86,410.48 272.09,410.33 272.31,410.48 272.54,410.56 272.76,409.99 272.99,410.75 273.21,410.51 273.44,410.25 273.67,410.47 273.89,410.47 274.12,410.44 274.34,410.35 274.57,410.30 274.79,410.58 275.02,410.56 275.24,410.51 275.47,410.72 275.69,410.58 275.92,410.71 276.15,410.51 276.37,410.39 276.60,410.66 276.82,410.57 277.05,410.46 277.27,410.59 277.50,410.51 277.72,410.64 277.95,410.12 278.17,410.47 278.40,410.47 278.63,410.72 278.85,410.67 279.08,410.01 279.30,410.55 279.53,410.37 279.75,410.60 279.98,410.63 280.20,410.07 280.43,410.50 280.65,410.71 280.88,410.60 281.11,410.58 281.33,410.48 281.56,410.34 281.78,410.29 282.01,410.74 282.23,410.58 282.46,410.54 282.68,410.65 282.91,410.18 283.13,410.30 283.36,410.58 283.59,410.35 283.81,410.44 284.04,410.22 284.26,410.32 284.49,410.56 284.71,410.53 284.94,410.40 285.16,410.35 285.39,410.45 285.61,410.61 285.84,410.46 286.07,410.75 286.29,410.74 286.52,410.72 286.74,410.52 286.97,410.44 287.19,410.12 287.42,410.38 287.64,410.39 287.87,410.55 288.09,410.75 288.32,410.69 288.55,410.42 288.77,410.61 289.00,410.02 289.22,410.57 289.45,410.57 289.67,410.73 289.90,410.36 290.12,410.63 290.35,409.76 290.57,410.67 290.80,410.73 291.03,410.34 291.25,410.39 291.48,410.54 291.70,410.52 291.93,410.69 292.15,410.16 292.38,410.45 292.60,409.92 292.83,410.43 293.05,410.22 293.28,410.68 293.51,410.27 293.73,410.37 293.96,410.31 294.18,410.67 294.41,410.63 294.63,410.65 294.86,410.25 295.08,410.31 295.31,410.63 295.53,410.71 295.76,410.41 295.99,410.43 296.21,410.56 296.44,410.35 296.66,410.48 296.89,410.29 297.11,410.46 297.34,410.70 297.56,410.15 297.79,410.68 298.01,410.65 298.24,410.63 298.47,410.50 298.69,410.54 298.92,410.68 299.14,410.63 299.37,410.54 299.59,410.60 299.82,410.45 300.04,410.46 300.27,410.48 300.49,410.42 300.72,410.44 300.95,410.74 301.17,410.33 301.40,410.41 301.62,410.57 301.85,410.40 302.07,410.73 302.30,410.37 302.52,410.37 302.75,410.52 302.97,410.24 303.20,410.35 303.43,410.63 303.65,410.60 303.88,410.69 304.10,410.20 304.33,410.67 304.55,410.61 304.78,410.17 305.00,410.37 305.23,410.72 305.45,410.44 305.68,410.65 305.91,410.32 306.13,410.23 306.36,410.71 306.58,410.54 306.81,410.70 307.03,410.53 307.26,410.67 307.48,410.64 307.71,410.75 307.93,382.46 308.16,410.65 308.39,410.47 308.61,410.73 308.84,410.62 309.06,410.53 309.29,410.72 309.51,410.09 309.74,410.34 309.96,410.70 310.19,410.29 310.41,410.59 310.64,410.53 310.87,410.32 311.09,410.72 311.32,410.55 311.54,410.72 311.77,410.30 311.99,410.52 312.22,410.54 312.44,410.44 312.67,410.58 312.89,410.41 313.12,410.61 313.35,410.55 313.57,410.44 313.80,410.52 314.02,410.70 314.25,410.67 314.47,410.37 314.70,410.76 314.92,410.58 315.15,410.57 315.37,410.58 315.60,410.52 315.83,410.37 316.05,410.70 316.28,410.59 316.50,410.68 316.73,410.35 316.95,410.75 317.18,410.61 317.40,410.39 317.63,410.74 317.85,410.36 318.08,410.50 318.31,410.52 318.53,410.38 318.76,410.48 318.98,410.67 319.21,410.63 319.43,410.48 319.66,410.55 319.88,410.68 320.11,410.72 320.33,410.51 320.56,410.46 320.79,410.73 321.01,410.32 321.24,410.61 321.46,410.73 321.69,410.59 321.91,410.70 322.14,410.32 322.36,410.69 322.59,410.71 322.81,410.76 323.04,410.53 323.27,410.31 323.49,410.38 323.72,410.68 323.94,410.64 324.17,410.59 324.39,410.66 324.62,409.99 324.84,410.14 325.07,410.69 325.29,410.62 325.52,410.70 325.75,410.50 325.97,410.49 326.20,410.39 326.42,410.62 326.65,410.69 326.87,410.73 327.10,410.21 327.32,410.11 327.55,410.66 327.77,410.46 328.00,410.56 328.23,410.30 328.45,410.45 328.68,410.43 328.90,410.21 329.13,410.03 329.35,410.58 329.58,410.54 329.80,410.75 330.03,410.44 330.25,410.59 330.48,410.74 330.71,410.50 330.93,410.68 331.16,410.33 331.38,410.47 331.61,410.48 331.83,410.58 332.06,410.67 332.28,410.53 332.51,410.58 332.73,410.36 332.96,410.59 333.19,410.72 333.41,410.45 333.64,409.71 333.86,410.55 334.09,410.69 334.31,410.32 334.54,410.29 334.76,410.60 334.99,410.66 335.21,410.42 335.44,410.62 335.67,410.19 335.89,410.68 336.12,410.27 336.34,410.65 336.57,410.65 336.79,410.61 337.02,410.55 337.24,410.61 337.47,410.54 337.69,410.75 337.92,410.52 338.15,410.59 338.37,410.58 338.60,410.58 338.82,410.43 339.05,410.71 339.27,410.69 339.50,410.55 339.72,410.74 339.95,410.20 340.17,410.39 340.40,410.56 340.63,410.66 340.85,410.22 341.08,410.56 341.30,410.66 341.53,406.60 341.75,406.60 341.98,406.60 342.20,410.44 342.43,410.63 342.65,410.58 342.88,410.62 343.11,410.57 343.33,410.69 343.56,410.72 343.78,410.68 344.01,410.39 344.23,410.58 344.46,410.29 344.68,410.52 344.91,410.72 345.13,410.74 345.36,410.62 345.59,410.48 345.81,410.20 346.04,410.51 346.26,410.60 346.49,410.62 346.71,410.57 346.94,410.56 347.16,410.47 347.39,410.50 347.61,410.54 347.84,410.16 348.07,410.66 348.29,410.59 348.52,410.75 348.74,410.62 348.97,410.62 349.19,410.58 349.42,410.52 349.64,410.38 349.87,410.71 350.09,410.64 350.32,410.48 350.55,410.43 350.77,410.12 351.00,410.70 351.22,410.64 351.45,410.57 351.67,410.66 351.90,410.66 352.12,410.69 352.35,410.54 352.57,410.32 352.80,410.60 353.03,410.61 353.25,410.44 353.48,410.51 353.70,410.52 353.93,410.68 354.15,410.42 354.38,410.74 354.60,410.56 354.83,410.61 355.05,410.70 355.28,410.63 355.51,410.50 355.73,410.41 355.96,410.52 356.18,410.34 356.41,410.66 356.63,410.31 356.86,410.61 357.08,410.40 357.31,410.56 357.53,410.71 357.76,410.65 357.99,410.67 358.21,410.52 358.44,410.28 358.66,410.75 358.89,410.67 359.11,410.75 359.34,410.68 359.56,410.47 359.79,410.68 360.01,410.50 360.24,410.55 360.47,410.40 360.69,410.72 360.92,410.30 361.14,410.51 361.37,410.39 361.59,410.18 361.82,410.47 362.04,410.62 362.27,410.53 362.49,410.73 362.72,410.62 362.95,410.26 363.17,410.59 363.40,410.71 363.62,410.54 363.85,410.68 364.07,405.51 364.30,405.51 364.52,405.51 364.75,410.68 364.97,410.73 365.20,410.49 365.43,410.52 365.65,410.55 365.88,410.50 366.10,410.75 366.33,410.69 366.55,410.58 366.78,410.69 367.00,410.71 367.23,410.63 367.45,410.75 367.68,410.51 367.91,410.56 368.13,410.74 368.36,410.73 368.58,410.48 368.81,410.64 369.03,410.61 369.26,410.30 369.48,410.49 369.71,410.56 369.93,410.74 370.16,410.28 370.39,410.17 370.61,410.53 370.84,410.22 371.06,410.30 371.29,410.64 371.51,410.64 371.74,410.50 371.96,410.68 372.19,410.64 372.41,410.69 372.64,410.66 372.87,410.62 373.09,410.22 373.32,407.01 373.54,407.01 373.77,407.01 373.99,410.55 374.22,410.42 374.44,410.46 374.67,410.62 374.89,410.13 375.12,410.74 375.35,410.74 375.57,410.67 375.80,410.54 376.02,410.66 376.25,410.45 376.47,410.61 376.70,410.72 376.92,410.63 377.15,410.76 377.37,410.50 377.60,410.48 377.83,410.68 378.05,410.44 378.28,410.58 378.50,410.63 378.73,410.52 378.95,410.67 379.18,410.47 379.40,410.73 379.63,410.57 379.85,410.59 380.08,410.72 380.31,410.34 380.53,410.42 380.76,410.45 380.98,410.75 381.21,410.64 381.43,410.56 381.66,410.67 381.88,410.63 382.11,383.14 382.33,383.14 382.56,383.14 382.79,410.45 383.01,410.51 383.24,410.38 383.46,410.52 383.69,410.57 383.91,410.75 384.14,410.54 384.36,410.50 384.59,410.51 384.81,410.48 385.04,410.62 385.27,410.75 385.49,410.74 385.72,410.73 385.94,410.63 386.17,410.36 386.39,410.55 386.62,410.62 386.84,410.70 387.07,410.57 387.29,410.63 387.52,410.69 387.75,410.66 387.97,410.54 388.20,410.37 388.42,410.70 388.65,410.65 388.87,410.68 389.10,410.54 389.32,410.47 389.55,410.54 389.77,410.41 390.00,410.39 390.23,410.29 390.45,410.62 390.68,410.49 390.90,410.62 391.13,410.70 391.35,410.50 391.58,410.41 391.80,410.72 392.03,410.40 392.25,410.63 392.48,410.57 392.71,410.48 392.93,410.69 393.16,410.68 393.38,410.76 393.61,410.69 393.83,410.68 394.06,410.35 394.28,410.60 394.51,410.73 394.73,410.50 394.96,410.61 395.19,410.34 395.41,410.52 395.64,410.50 395.86,410.64 396.09,410.62 396.31,410.45 396.54,410.70 396.76,410.73 396.99,410.75 397.21,410.62 397.44,410.65 397.67,410.56 397.89,410.68 398.12,410.63 398.34,410.52 398.57,410.70 398.79,410.57 399.02,410.57 399.24,410.55 399.47,410.72 399.69,410.31 399.92,410.71 400.15,410.60 400.37,410.50 400.60,409.85 400.82,410.61 401.05,410.61 401.27,410.64 401.50,410.44 401.72,410.73 401.95,410.52 402.17,410.64 402.40,410.56 402.63,410.71 402.85,410.50 403.08,410.28 403.30,410.55 403.53,410.68 403.75,410.62 403.98,410.57 404.20,410.75 404.43,410.71 404.65,410.66 404.88,410.67 405.11,410.31 405.33,410.66 405.56,410.33 405.78,410.69 406.01,410.58 406.23,410.70 406.46,410.66 406.68,410.68 406.91,410.59 407.13,410.65 407.36,410.65 407.59,410.69 407.81,410.50 408.04,410.76 408.26,410.72 408.49,410.75 408.71,410.64 408.94,410.65 409.16,410.70 409.39,410.69 409.61,410.70 409.84,410.73 410.07,410.64 410.29,410.48 410.52,410.45 410.74,410.55 410.97,410.74 411.19,410.54 411.42,410.66 411.64,410.74 411.87,410.66 412.09,410.71 412.32,410.60 412.55,410.70 412.77,407.69 413.00,410.44 413.22,410.72 413.45,410.70 413.67,410.67 413.90,410.75 414.12,410.59 414.35,410.69 414.57,410.68 414.80,410.62 415.03,410.69 415.25,410.50 415.48,410.74 415.70,410.59 415.93,410.62 416.15,410.60 416.38,410.69 416.60,410.55 416.83,410.63 417.05,410.55 417.28,410.44 417.51,410.69 417.73,410.69 417.96,410.62 418.18,410.48 418.41,408.37 418.63,410.56 418.86,410.66 419.08,410.43 419.31,410.72 419.53,410.22 419.76,410.75 419.99,410.62 420.21,410.31 420.44,410.57 420.66,410.66 420.89,410.31 421.11,410.61 421.34,410.51 421.56,410.62 421.79,410.57 422.01,410.67 422.24,410.49 422.47,409.06 422.69,410.63 422.92,410.38 423.14,410.61 423.37,410.74 423.59,410.66 423.82,410.63 424.04,410.60 424.27,410.69 424.49,410.55 424.72,410.61 424.95,410.41 425.17,410.39 425.40,410.39 425.62,410.49 425.85,410.64 426.07,410.54 426.30,410.72 426.52,410.58 426.75,410.65 426.97,410.62 427.20,409.06 427.43,410.53 427.65,410.51 427.88,410.68 428.10,410.63 428.33,410.36 428.55,410.66 428.78,410.62 429.00,410.61 429.23,410.60 429.45,410.37 429.68,410.76 429.91,410.61 430.13,410.69 430.36,410.55 430.58,410.58 430.81,410.63 431.03,410.57 431.26,410.73 431.48,410.65 431.71,410.68 431.93,410.72 432.16,410.64 432.39,410.58 432.61,410.61 432.84,410.52 433.06,410.70 433.29,410.72 433.51,410.69 433.74,410.68 433.96,410.69 434.19,410.59 434.41,410.70 434.64,409.98 434.87,410.52 435.09,410.50 435.32,410.54 435.54,410.65 435.77,410.63 435.99,410.55 436.22,410.70 436.44,410.60 436.67,410.64 436.89,410.62 437.12,410.74 437.35,410.67 437.57,410.74 437.80,410.65 438.02,410.55 438.25,410.46 438.47,410.44 438.70,410.65 438.92,410.63 439.13,410.66 439.15,365.14 439.17,410.66 439.15,410.66 439.37,410.75 439.60,410.73 439.83,410.60 440.05,410.70 440.28,410.69 440.50,410.52 440.73,410.70 440.95,410.72 441.18,410.73 441.40,410.58 441.63,410.73 441.85,410.63 442.08,410.71 442.31,410.66 442.53,410.75 442.76,410.68 442.98,410.56 443.21,410.70 443.43,410.73 443.66,410.47 443.88,410.62 444.11,410.67 444.33,410.73 444.56,410.68 444.79,410.72 445.01,410.64 445.24,410.55 445.46,410.75 445.69,410.72 445.91,410.66 446.14,410.65 446.36,410.58 446.59,410.62 446.81,410.69 447.04,410.69 447.27,410.17 447.49,410.53 447.72,410.35 447.94,410.52 448.17,410.67 448.39,410.68 448.62,410.66 448.84,410.49 449.07,410.69 449.29,410.48 449.52,410.54 449.75,410.10 449.97,410.59 450.20,410.41 450.42,410.62 450.65,410.65 450.87,410.61 451.10,410.63 451.32,410.42 451.55,410.59 451.77,410.68 452.00,410.50 452.23,410.65 452.45,410.74 452.68,410.70 452.90,410.40 453.13,410.71 453.35,410.74 453.58,410.45 453.80,410.75 454.03,410.47 454.25,410.38 454.48,410.58 454.71,410.76 454.93,410.57 455.16,410.13 455.38,410.63 455.61,410.66 455.83,410.64 456.06,410.64 456.28,410.66 456.51,410.49 456.73,410.66 456.96,410.73 457.19,410.66 457.41,410.46 457.64,410.52 457.86,410.75 458.09,410.66 458.31,410.49 458.54,410.53 458.76,410.45 458.99,410.75 459.21,410.45 459.44,410.67 459.67,410.65 459.89,410.74 460.12,410.47 460.34,410.54 460.57,410.74 460.79,410.42 461.02,410.53 461.24,410.73 461.47,410.58 461.69,410.67 461.92,410.70 462.15,410.69 462.37,410.67 462.60,410.74 462.82,410.71 463.05,410.74 463.27,410.56 463.50,410.74 463.72,410.74 463.95,410.62 464.17,410.68 464.40,410.59 464.63,410.20 464.85,410.64 465.08,410.58 465.30,410.49 465.53,410.70 465.75,410.59 465.98,410.74 466.20,410.56 466.43,410.73 466.65,410.74 466.88,410.68 467.11,410.70 467.33,410.70 467.56,410.56 467.78,410.64 468.01,410.41 468.23,410.75 468.46,410.66 468.68,410.50 468.91,410.74 469.13,410.68 469.36,410.45 469.59,410.39 469.81,410.43 470.04,410.60 470.26,410.69 470.49,410.68 470.71,410.74 470.94,410.75 471.16,410.67 471.39,410.50 471.61,410.66 471.84,410.64 472.07,410.50 472.29,410.61 472.52,410.60 472.74,410.72 472.97,410.56 473.19,410.74 473.42,410.60 473.64,410.73 473.87,410.73 474.08,410.66 474.09,368.28 474.11,410.66 474.09,410.66 474.32,410.65 474.55,410.63 474.77,410.70 475.00,410.59 475.22,410.64 475.45,410.45 475.67,410.60 475.90,410.69 476.12,410.61 476.35,410.72 476.57,410.76 476.80,409.74 477.03,410.72 477.25,410.46 477.48,410.72 477.70,410.47 477.93,410.74 478.15,410.71 478.38,410.67 478.60,410.72 478.83,410.54 479.05,410.71 479.28,410.73 479.51,410.71 479.73,410.57 479.96,410.36 480.18,410.65 480.41,410.61 480.63,410.65 480.86,410.70 481.08,410.45 481.31,410.65 481.53,410.52 481.76,410.37 481.99,410.57 482.21,410.67 482.44,410.61 482.66,410.75 482.89,410.75 483.11,410.65 483.34,410.66 483.56,410.60 483.79,410.75 484.01,410.46 484.24,410.58 484.47,410.74 484.69,410.67 484.92,410.75 485.14,410.55 485.37,410.68 485.59,410.62 485.82,410.54 486.04,410.60 486.27,410.37 486.49,410.75 486.72,410.58 486.95,410.50 487.17,410.73 487.40,410.72 487.62,410.67 487.85,410.60 488.07,410.75 488.30,410.56 488.52,409.74 488.75,410.68 488.97,410.72 489.20,410.41 489.43,410.45 489.65,410.75 489.88,410.72 490.10,410.69 490.33,410.74 490.55,410.73 490.78,410.66 491.00,410.49 491.23,410.41 491.45,410.68 491.68,410.50 491.91,410.53 492.13,410.69 492.36,410.60 492.58,410.66 492.81,410.75 493.03,410.68 493.26,410.58 493.48,410.54 493.71,410.75 493.93,410.57 494.16,410.74 494.39,410.46 494.61,410.67 494.84,410.60 495.06,410.64 495.29,410.73 495.51,410.67 495.74,410.75 495.96,410.70 496.19,410.69 496.41,410.58 496.64,410.72 496.87,410.66 497.09,410.64 497.32,410.65 497.54,410.63 497.77,410.73 497.99,410.36 498.22,410.50 498.44,410.56 498.67,410.76 498.89,410.39 499.12,410.51 499.35,410.75 499.57,410.62 499.80,410.66 500.02,410.51 500.25,410.61 500.47,410.67 500.70,410.76 500.92,410.73 501.15,410.72 501.37,410.71 501.60,410.67 501.83,410.39 502.05,410.38 502.28,410.50 502.50,410.74 502.73,410.61 502.95,410.54 503.18,408.37 503.40,408.37 503.63,408.37 503.85,410.55 504.08,410.70 504.31,410.62 504.53,410.55 504.76,410.67 504.98,410.46 505.21,410.73 505.43,410.72 505.66,410.61 505.88,410.57 506.11,410.62 506.33,410.69 506.56,410.75 506.79,410.71 507.01,410.44 507.24,410.61 507.46,410.64 507.69,410.69 507.91,410.20 508.14,410.58 508.36,410.73 508.59,410.72 508.81,410.65 509.04,410.76 509.27,410.53 509.49,410.60 509.72,410.45 509.94,410.67 510.17,410.61 510.39,410.68 510.62,410.65 510.84,410.75 511.07,410.42 511.29,410.76 511.52,410.44 511.75,410.74 511.97,410.67 512.20,410.45 512.42,410.74 512.65,410.70 512.87,410.37 513.10,410.48 513.32,410.64 513.55,410.69 513.77,410.71 514.00,410.73 514.23,410.62 514.45,410.73 514.68,410.59 514.90,410.59 515.13,410.74 515.35,410.60 515.58,410.64 515.80,410.47 516.03,410.66 516.25,410.74 516.48,410.73 516.71,410.60 516.93,410.59 517.16,410.70 517.38,410.65 517.61,410.53 517.83,410.73 518.06,410.70 518.28,410.62 518.51,410.65 518.73,410.54 518.96,410.61 519.19,410.62 519.41,410.69 519.64,410.75 519.86,410.75 520.09,409.87 520.31,410.72 520.54,410.63 520.76,410.53 520.99,410.58 521.21,410.73 521.44,410.59 521.67,410.72 521.89,410.67 522.12,410.73 522.34,410.66 522.57,410.65 522.79,410.54 523.02,410.54 523.24,410.64 523.47,410.72 523.69,410.61 523.92,410.69 524.15,410.56 524.37,410.76 524.60,410.55 524.82,410.67 525.05,410.74 525.27,410.74 525.50,410.18 525.72,410.58 525.95,410.53 526.17,410.68 526.40,410.74 526.63,410.49 526.85,410.67 527.08,410.72 527.30,410.72 527.53,410.72 527.75,410.75 527.98,410.60 528.20,410.51 528.43,410.61 528.65,410.54 528.88,410.74 529.11,410.63 529.33,410.74 529.56,410.71 529.78,410.60 530.01,410.52 530.23,410.63 530.46,410.70 530.68,410.60 530.91,410.66 531.13,410.57 531.36,410.74 531.59,410.68 531.81,410.76 532.04,410.68 532.26,410.57 532.49,410.71 532.71,410.48 532.94,410.75 533.16,410.67 533.39,410.65 533.61,410.68 533.84,410.52 534.07,410.71 534.29,410.59 534.52,410.65 534.74,410.62 534.97,410.51 535.19,410.60 535.42,410.62 535.64,410.76 535.87,410.49 536.09,410.47 536.32,410.58 536.55,410.53 536.77,410.64 537.00,410.59 537.22,410.65 537.45,410.66 537.67,410.62 537.90,410.68 538.12,410.68 538.35,410.72 538.57,410.69 538.80,410.71 539.03,410.69 539.25,410.57 539.48,410.61 539.70,410.75 539.93,410.74 540.15,410.67 540.38,410.22 540.60,410.59 540.83,410.67 541.05,410.75 541.28,410.74 541.51,410.64 541.73,410.73 541.96,410.51 542.18,410.67 542.41,410.69 542.63,410.68 542.86,410.42 543.08,410.63 543.31,410.68 543.53,410.60 543.76,410.75 543.99,410.74 544.21,410.60 544.44,410.62 544.66,410.56 544.89,410.53 545.11,410.38 545.34,410.75 545.56,410.50 545.79,410.70 546.01,410.58 546.24,410.68 546.47,193.97 546.69,193.97 546.92,193.97 547.14,410.74 547.37,410.74 547.59,410.75 547.82,410.63 548.04,410.65 548.27,410.40 548.49,410.57 548.72,410.71 548.95,410.75 549.17,410.70 549.40,410.58 549.62,410.49 549.85,410.56 550.07,410.62 550.30,410.63 550.52,410.61 550.75,410.74 550.97,410.54 551.20,410.72 551.43,410.53 551.65,410.71 551.88,410.74 552.10,410.61 552.33,410.74 552.55,410.71 552.78,410.69 553.00,410.63 553.23,410.60 553.45,410.74"/>
</g>
<path d="M103.5 427.5v4.86M193.5 427.5v4.86M283.5 427.5v4.86M373.5 427.5v4.86M463.5 427.5v4.86M553.5 427.5v4.86M80.5 410.5h-4.86M80.5 342.5h-4.86M80.5 274.5h-4.86M80.5 205.5h-4.86M80.5 137.5h-4.86M80.5 69.5h-4.86" stroke="#000" stroke-width="1.2" fill="none"/>
<path d="M80.5 58.5H576.5V427.5H80.5Z" stroke="#000" stroke-width="1.2" fill="none" stroke-linejoin="miter"/>
<g font-size="13.889" text-anchor="middle">
<text transform="translate(103.28 448.13) rotate(0.05)">0</text>
<text transform="translate(192.59 448.10) rotate(0.05)">20</text>
<text transform="translate(283.30 447.91) rotate(0.05)">40</text>
<text transform="translate(372.67 448.11) rotate(0.05)">60</text>
<text transform="translate(462.89 448.07) rotate(0.05)">80</text>
<text transform="translate(553.19 447.96) rotate(0.05)">100</text>
</g>
<g font-size="13.889" text-anchor="end">
<text transform="translate(70.80 416.12) rotate(0.05)">0</text>
<text transform="translate(70.88 348.09) rotate(0.05)">5</text>
<text transform="translate(69.97 279.00) rotate(0.05)">10</text>
<text transform="translate(70.15 210.97) rotate(0.05)">15</text>
<text transform="translate(70.55 143.06) rotate(0.05)">20</text>
<text transform="translate(70.59 74.03) rotate(0.05)">25</text>
</g>
<text transform="translate(327.51 48.96) rotate(0.05) scale(1 1.070)" font-size="16.667" text-anchor="middle" stroke-width="0.200">Discriminator loss</text>
<text transform="translate(327.94 466.89) rotate(0.05)" font-size="13.889" text-anchor="middle">Epoch</text>
<text transform="translate(43.74 245.71) rotate(-89.95)" font-size="13.889" text-anchor="middle">loss</text>
<rect x="432.68" y="64.54" width="136.38" height="46.06" rx="2.78" ry="2.78" fill="#ffffff" fill-opacity="0.8" stroke="#cccccc" stroke-opacity="0.8" stroke-width="1.389"/>
<path d="M438.24 76.24h27.78" stroke="#1f77b4" stroke-width="2.083" stroke-linecap="square"/>
<path d="M438.24 97.18h27.78" stroke="#ff7f0e" stroke-width="2.083" stroke-linecap="square"/>
<text transform="translate(477.24 80.85) rotate(0.05)" font-size="13.889">Real images</text>
<text transform="translate(477.25 101.93) rotate(0.05)" font-size="13.889">Fake images</text>
</svg></body></html>
